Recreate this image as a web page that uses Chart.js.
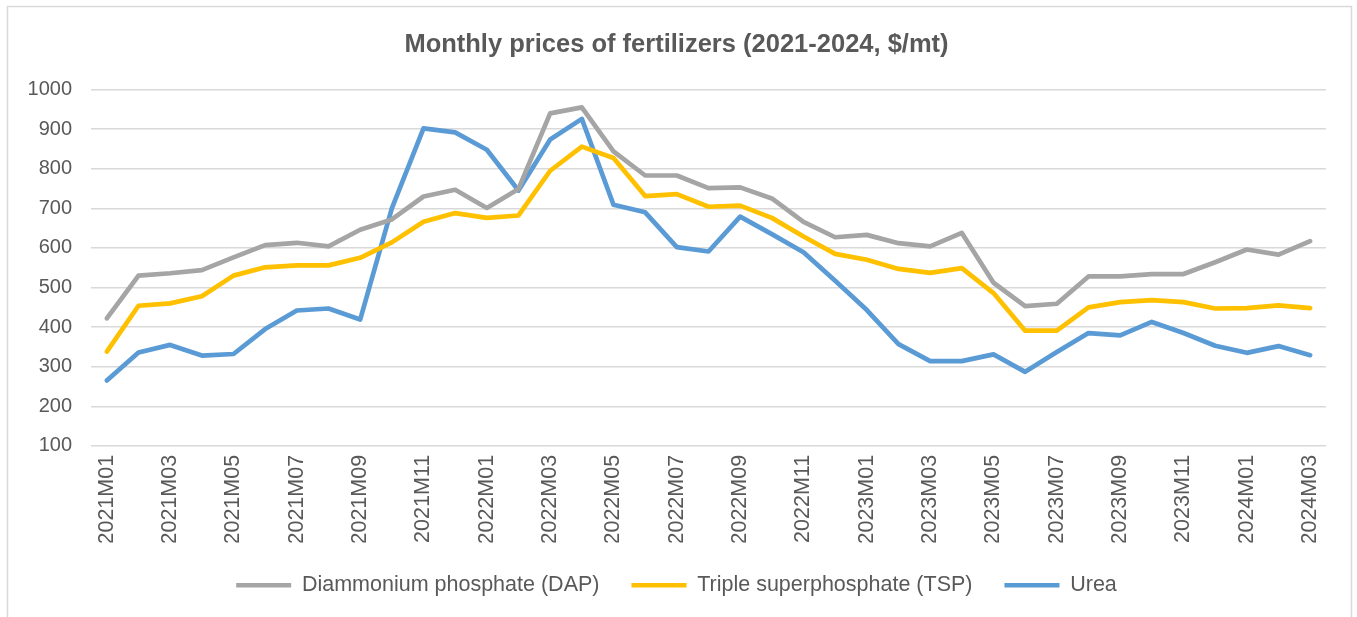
<!DOCTYPE html>
<html lang="en">
<head>
    <meta charset="UTF-8">
    <title>Monthly prices of fertilizers</title>
    <script src="https://cdn.jsdelivr.net/npm/chart.js"></script>
    <style>
        body {
            margin: 0;
            background: #ffffff;
        }

        .chart-box {
            position: relative;
            width: 1357px;
            height: 617px;
        }
    </style>
</head>
<body>
    <div class="chart-box">
        <canvas id="priceChart" width="1357" height="617"></canvas>
    </div>

    <script>
        // Months, 2021M01 .. 2024M03
        const months = [
            '2021M01', '2021M02', '2021M03', '2021M04', '2021M05', '2021M06', '2021M07', '2021M08', '2021M09', '2021M10', '2021M11', '2021M12',
            '2022M01', '2022M02', '2022M03', '2022M04', '2022M05', '2022M06', '2022M07', '2022M08', '2022M09', '2022M10', '2022M11', '2022M12',
            '2023M01', '2023M02', '2023M03', '2023M04', '2023M05', '2023M06', '2023M07', '2023M08', '2023M09', '2023M10', '2023M11', '2023M12',
            '2024M01', '2024M02', '2024M03'
        ];

        // $/mt
        const dap = [422, 530, 536, 544, 576, 607, 613, 604, 646, 672, 730, 747, 701,
                     749, 940, 955, 844, 783, 783, 751, 753, 725, 666, 627, 633, 612,
                     604, 638, 512, 453, 459, 528, 528, 534, 534, 564, 596, 583, 617];
        const tsp = [338, 454, 460, 478, 530, 551, 556, 556, 575, 614, 666, 688, 676,
                     682, 795, 856, 827, 731, 736, 704, 707, 676, 629, 585, 570, 547,
                     537, 549, 486, 391, 391, 450, 463, 468, 463, 447, 448, 455, 448];
        const urea = [265, 336, 355, 328, 332, 395, 442, 447, 419, 700, 902, 892, 848,
                      745, 874, 926, 709, 690, 602, 591, 679, 635, 589, 517, 443, 357,
                      314, 314, 331, 287, 337, 385, 379, 413, 385, 353, 335, 352, 329];

        const seriesNames = ['Diammonium phosphate (DAP)', 'Triple superphosphate (TSP)', 'Urea'];
        const seriesColors = ['#A5A5A5', '#FFC000', '#5B9BD5'];

        const textColor = '#595959';
        const fontFamily = '"Liberation Sans", Arial, sans-serif';

        // light grey frame round the whole chart
        const framePlugin = {
            id: 'frame',
            beforeDraw(chart) {
                const ctx = chart.ctx;
                ctx.save();
                ctx.strokeStyle = '#D9D9D9';
                ctx.lineWidth = 1.5;
                ctx.strokeRect(7.5, 6.5, 1344, 640);
                ctx.restore();
            }
        };

        function makeLine(label, data, color) {
            return {
                label: label,
                data: data,
                borderColor: color,
                backgroundColor: color,
                borderWidth: 4.7,
                borderCapStyle: 'round',
                borderJoinStyle: 'round',
                pointRadius: 0,
                pointHoverRadius: 0,
                tension: 0,
                fill: false
            };
        }

        const ctx = document.getElementById('priceChart').getContext('2d');
        new Chart(ctx, {
            type: 'line',
            data: {
                labels: months,
                datasets: [
                    makeLine(seriesNames[0], dap, seriesColors[0]),
                    makeLine(seriesNames[1], tsp, seriesColors[1]),
                    makeLine(seriesNames[2], urea, seriesColors[2])
                ]
            },
            plugins: [framePlugin],
            options: {
                responsive: false,
                animation: false,
                layout: {
                    padding: { left: 27, right: 31, top: 0, bottom: 11 }
                },
                plugins: {
                    title: {
                        display: true,
                        text: 'Monthly prices of fertilizers (2021-2024, $/mt)',
                        color: textColor,
                        font: { family: fontFamily, size: 25.5, weight: 'bold' },
                        padding: { top: 30, bottom: 29 }
                    },
                    legend: {
                        position: 'bottom',
                        labels: {
                            color: textColor,
                            font: { family: fontFamily, size: 21.5 },
                            usePointStyle: true,
                            pointStyle: 'line',
                            pointStyleWidth: 55,
                            padding: 32
                        }
                    },
                    tooltip: { enabled: false }
                },
                scales: {
                    x: {
                        offset: true,
                        grid: { display: false },
                        border: { display: false },
                        ticks: {
                            color: textColor,
                            font: { family: fontFamily, size: 21.5 },
                            autoSkip: false,
                            minRotation: 90,
                            maxRotation: 90,
                            padding: 1,
                            callback: function(value, index) {
                                return index % 2 === 0 ? months[index] : '';
                            }
                        },
                        afterFit: function(scale) {
                            scale.height -= 3;
                        }
                    },
                    y: {
                        min: 100,
                        max: 1000,
                        grid: {
                            color: '#D9D9D9',
                            lineWidth: 1.5,
                            drawTicks: false
                        },
                        border: { display: false },
                        ticks: {
                            stepSize: 100,
                            color: textColor,
                            font: { family: fontFamily, size: 20 },
                            padding: 19,
                            callback: function(value) {
                                return String(value);
                            }
                        },
                        afterFit: function(scale) {
                            scale.width = 64;
                        }
                    }
                }
            }
        });
    </script>
</body>
</html>
